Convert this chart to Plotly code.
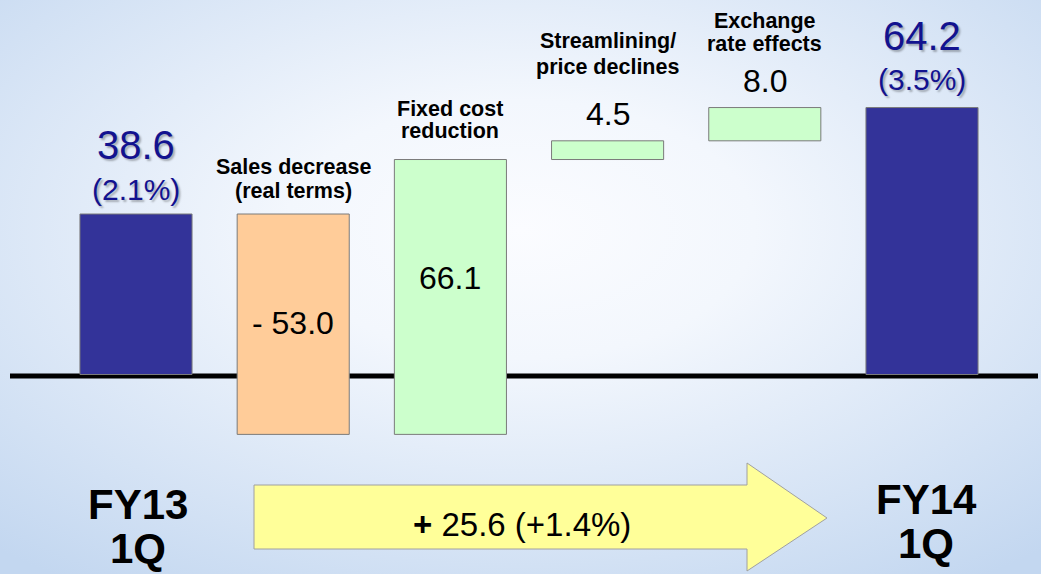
import base64
import plotly.graph_objects as go

# ---------------- data ----------------
cat_lines = [["FY13", "1Q"],
             ["Sales decrease", "(real terms)"],
             ["Fixed cost", "reduction"],
             ["Streamlining/", "price declines"],
             ["Exchange", "rate effects"],
             ["FY14", "1Q"]]
values = [38.6, -53.0, 66.1, 4.5, 8.0, 64.2]
measures = ["absolute", "relative", "relative", "relative", "relative", "total"]
value_labels = ["38.6", "- 53.0", "66.1", "4.5", "8.0", "64.2"]
ratio_labels = ["(2.1%)", "", "", "", "", "(3.5%)"]
change_value = "25.6"
change_pct = "+1.4%"

# ---------------- geometry / style ----------------
W, H = 1041, 574
FONT = "Liberation Sans, Arial, sans-serif"
BLUE_TXT = "#12128f"
SHADOW = "2px 2px 2px rgba(0,0,0,0.28)"
xs = list(range(len(values)))

# bar extents computed from the data
lows, highs = [], []
cum = 0.0
for v, m in zip(values, measures):
    if m == "absolute":
        lo, hi = min(0, v), max(0, v)
        cum = v
    elif m == "relative":
        new = cum + v
        lo, hi = min(cum, new), max(cum, new)
        cum = new
    else:
        lo, hi = min(0, cum), max(0, cum)
    lows.append(lo)
    highs.append(hi)

fig = go.Figure()
outline = dict(color="#7a7a7a", width=1)
fig.add_trace(go.Waterfall(
    x=xs, y=values, measure=measures, width=0.713,
    increasing=dict(marker=dict(color="#ccffcc", line=outline)),
    decreasing=dict(marker=dict(color="#ffcc99", line=outline)),
    totals=dict(marker=dict(color="#333399", line=outline)),
    connector=dict(visible=False), textinfo="none", hoverinfo="skip",
    showlegend=False,
))

ann = []
# pixel offsets above bar tops (style)
cat_offsets = {1: (47, 23), 2: (50.5, 28.5), 3: (100, 74), 4: (87, 64)}
val_offsets = {0: 69, 3: 27, 4: 26.7, 5: 72}
ratio_offsets = {0: 25, 5: 28.5}
mid_offsets = {1: 1.5, 2: 19}

for i in xs:
    if i in cat_offsets:
        for line, off in zip(cat_lines[i], cat_offsets[i]):
            ann.append(dict(x=i, y=highs[i], yshift=off, text=f"<b>{line}</b>",
                            showarrow=False, yanchor="middle", xanchor="center",
                            font=dict(family=FONT, size=21.5, color="#000000")))
    if i in (0, 5):
        ann.append(dict(x=i, y=highs[i], yshift=val_offsets[i], text=value_labels[i],
                        showarrow=False, yanchor="middle",
                        font=dict(family=FONT, size=40, color=BLUE_TXT, shadow=SHADOW)))
        ann.append(dict(x=i, y=highs[i], yshift=ratio_offsets[i], text=ratio_labels[i],
                        showarrow=False, yanchor="middle",
                        font=dict(family=FONT, size=30, color=BLUE_TXT, shadow=SHADOW)))
    elif i in mid_offsets:
        ann.append(dict(x=i, y=(lows[i] + highs[i]) / 2, yshift=mid_offsets[i],
                        text=value_labels[i], showarrow=False, yanchor="middle",
                        font=dict(family=FONT, size=32, color="#000000")))
    else:
        ann.append(dict(x=i, y=highs[i], yshift=val_offsets[i], text=value_labels[i],
                        showarrow=False, yanchor="middle",
                        font=dict(family=FONT, size=32, color="#000000")))

# bottom period labels
bottom_py = {0: (504.5, 548.7), 5: (500, 543.5)}
for i, (p1, p2) in bottom_py.items():
    for line, py in zip(cat_lines[i], (p1, p2)):
        ann.append(dict(x=i, xref="x", y=1 - py / H, yref="paper", text=f"<b>{line}</b>",
                        showarrow=False, yanchor="middle", xshift=2 if i == 0 else 4,
                        font=dict(family=FONT, size=42, color="#000000")))

# arrow text
ann.append(dict(x=521.5 / W, y=1 - 524.5 / H, xref="paper", yref="paper",
                text=f"<b>+</b> {change_value} ({change_pct})", showarrow=False,
                yanchor="middle", font=dict(family=FONT, size=33, color="#000000")))

# arrow shape
pts = [(254, 485), (747, 485), (747, 463), (827, 518), (747, 571), (747, 549), (254, 549)]
path = "M " + " L ".join(f"{px / W:.5f},{1 - py / H:.5f}" for px, py in pts) + " Z"
shapes = [
    dict(type="path", xref="paper", yref="paper", path=path,
         fillcolor="#ffff99", line=dict(color="#a0a0a0", width=1), layer="above"),
    dict(type="rect", xref="paper", x0=10 / W, x1=1038 / W, yref="y",
         ysizemode="pixel", yanchor=0, y0=-4, y1=1,
         fillcolor="#000000", line=dict(width=0), layer="below"),
]

svg = (f'<svg xmlns="http://www.w3.org/2000/svg" width="{W}" height="{H}" '
       f'viewBox="0 0 {W} {H}" preserveAspectRatio="none"><defs>'
       '<radialGradient id="g" cx="0.5" cy="0.4" r="0.75">'
       '<stop offset="0" stop-color="#fbfcff"/>'
       '<stop offset="0.3" stop-color="#f3f7fd"/>'
       '<stop offset="1" stop-color="#c3d7f0"/>'
       '</radialGradient></defs>'
       f'<rect width="{W}" height="{H}" fill="url(#g)"/></svg>')
src = "data:image/svg+xml;base64," + base64.b64encode(svg.encode()).decode()

# y scale: zero at 374.5 px, 4.158 px per unit
y_top = 374.5 / 4.158
y_bot = -(H - 374.5) / 4.158
x_left = -136 / 157.2
x_right = (W - 136) / 157.2

fig.update_layout(
    width=W, height=H, margin=dict(l=0, r=0, t=0, b=0),
    paper_bgcolor="#ffffff", plot_bgcolor="rgba(0,0,0,0)",
    xaxis=dict(range=[x_left, x_right], visible=False, fixedrange=True),
    yaxis=dict(range=[y_bot, y_top], visible=False, fixedrange=True),
    annotations=ann, shapes=shapes,
    images=[dict(source=src, xref="paper", yref="paper", x=0, y=1, sizex=1, sizey=1,
                 xanchor="left", yanchor="top", sizing="stretch", layer="below")],
    showlegend=False,
)
fig.write_html("out.html")
